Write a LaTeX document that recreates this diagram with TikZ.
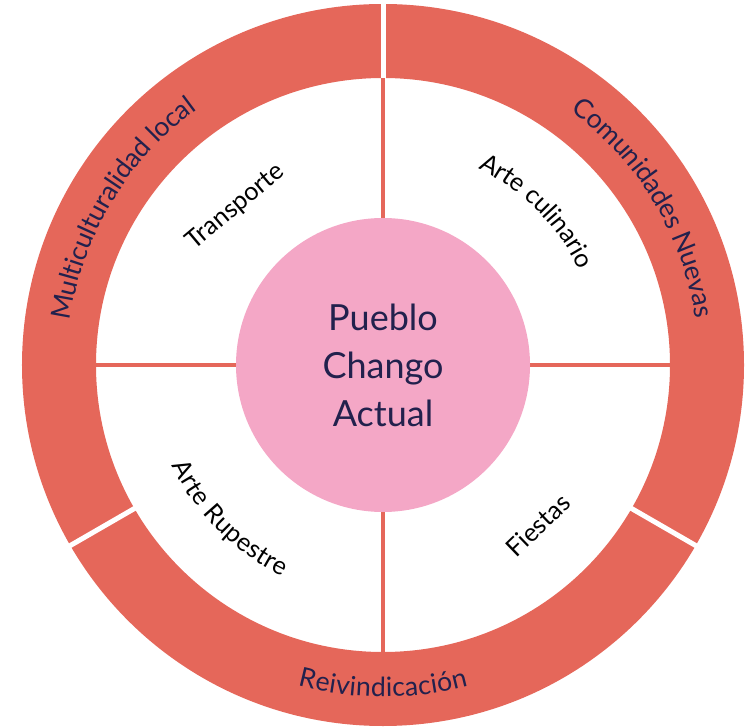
\documentclass[tikz,border=0pt]{standalone}
\usepackage{fontspec}
\setmainfont{Lato}
\usetikzlibrary{decorations.text}
\definecolor{ringred}{HTML}{E5675A}
\definecolor{hubpink}{HTML}{F4A7C6}
\definecolor{navy}{HTML}{22214D}
\newcommand{\ringfont}{\fontsize{20}{24}\selectfont}
\newcommand{\petalfont}{\fontsize{19}{23}\selectfont}

\begin{document}
\begin{tikzpicture}[x=0.75pt,y=0.75pt]

\tikzset{hub/.style={circle,fill=hubpink,minimum size=220.5pt,inner sep=0pt,align=center,text=navy,font=\fontsize{27}{36}\selectfont}}
\tikzset{ringtext/.style={decorate,decoration={text along path,text align=center,raise=-6pt,text color=navy,text={|\ringfont|#1}}}}
\tikzset{petaltext/.style={decorate,decoration={text along path,text align=center,raise=-5pt,text color=black,text={|\petalfont|#1}}}}
\tikzset{petal/.style={font=\petalfont,text=black,inner sep=0pt}}
\tikzset{gap/.style={white,line width=3.75pt}}
\tikzset{split/.style={ringred,line width=3.2pt}}

\useasboundingbox (-383,-362) rectangle (372,365);

% outer ring
\fill[ringred,even odd rule] (0,0) circle[radius=361] (0,0) circle[radius=287];
\draw[gap] (90:280) -- (90:370);
\draw[gap] (210:280) -- (210:370);
\draw[gap] (330:280) -- (330:370);

% quarters
\draw[split] (-287,0) -- (287,0);
\draw[split] (0,-287) -- (0,287);

\node[hub] (hub) at (0,0) {Pueblo\\Chango\\Actual};

% ring labels
\path[ringtext={Multiculturalidad local}] (194:324) arc[start angle=194, end angle=104, radius=324];
\path[ringtext={Comunidades Nuevas}] (76:324) arc[start angle=76, end angle=-14, radius=324];
\path[ringtext={Reivindicación}] (230:324) arc[start angle=230, end angle=310, radius=324];

% quarter labels
\node[petal,rotate=40] (transporte) at (133:216) {Transporte};
\path[petaltext={Arte culinario}] (85:225) arc[start angle=85, end angle=5, radius=225];
\path[petaltext={Arte Rupestre}] (185:227) arc[start angle=185, end angle=265, radius=227];
\node[petal,rotate=44] (fiestas) at (-46:223) {Fiestas};

\end{tikzpicture}
\end{document}
